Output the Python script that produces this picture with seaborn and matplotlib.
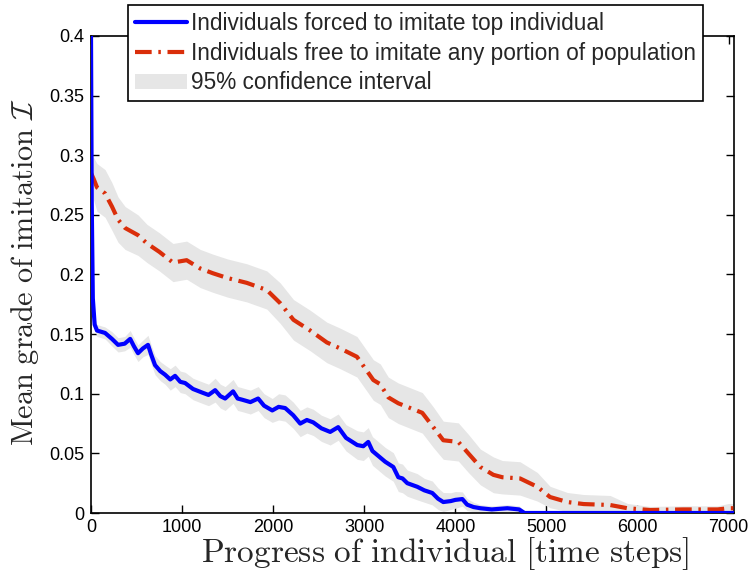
import numpy as np
import pandas as pd
import seaborn as sns
import matplotlib
matplotlib.use("Agg")
import matplotlib.pyplot as plt
from matplotlib.patches import Patch
from matplotlib.lines import Line2D

# ---------------- data ----------------
blue_x = [0, 8, 20, 40, 66, 154, 230, 297, 370, 430, 470, 516, 570, 626, 660, 703,
          760, 813, 870, 923, 980, 1033, 1120, 1220, 1290, 1363, 1420, 1473, 1560,
          1610, 1660, 1750, 1835, 1900, 1990, 2060, 2132, 2220, 2297, 2370, 2440,
          2530, 2626, 2714, 2800, 2923, 2990, 3044, 3090, 3143, 3230, 3319, 3374,
          3420, 3473, 3582, 3660, 3747, 3810, 3868, 3950, 4000, 4077, 4130, 4200,
          4275, 4400, 4571, 4700, 4740, 4760, 7060]
blue_y = [0.400, 0.260, 0.180, 0.158, 0.153, 0.151, 0.146, 0.141, 0.142, 0.146, 0.140,
          0.134, 0.138, 0.141, 0.133, 0.124, 0.119, 0.116, 0.112, 0.115, 0.110, 0.109,
          0.104, 0.101, 0.099, 0.103, 0.098, 0.096, 0.102, 0.096, 0.095, 0.093, 0.096,
          0.090, 0.086, 0.089, 0.088, 0.082, 0.075, 0.078, 0.076, 0.071, 0.068, 0.072,
          0.063, 0.057, 0.056, 0.0596, 0.052, 0.0486, 0.043, 0.0386, 0.030, 0.029,
          0.025, 0.022, 0.019, 0.0168, 0.012, 0.0092, 0.010, 0.011, 0.0117, 0.007,
          0.005, 0.004, 0.003, 0.004, 0.003, 0.001, 0.0, 0.0]
blue_ci = [0.0, 0.004, 0.005, 0.005, 0.005, 0.005, 0.006, 0.006, 0.006, 0.007, 0.007,
           0.007, 0.007, 0.008, 0.008, 0.008, 0.008, 0.008, 0.009, 0.009, 0.009, 0.009,
           0.009, 0.009, 0.009, 0.010, 0.010, 0.010, 0.010, 0.010, 0.010, 0.010, 0.010,
           0.010, 0.010, 0.011, 0.011, 0.011, 0.011, 0.011, 0.011, 0.011, 0.011, 0.011,
           0.011, 0.012, 0.012, 0.012, 0.012, 0.012, 0.012, 0.012, 0.012, 0.012, 0.011,
           0.011, 0.010, 0.010, 0.009, 0.008, 0.007, 0.007, 0.006, 0.005, 0.004, 0.003,
           0.003, 0.003, 0.003, 0.002, 0.001, 0.001]

red_x = [0, 30, 66, 154, 230, 297, 374, 516, 615, 750, 900, 1050, 1200, 1340, 1500,
         1710, 1930, 2077, 2223, 2407, 2590, 2736, 2920, 3100, 3176, 3264, 3374, 3505,
         3637, 3758, 3868, 4033, 4143, 4275, 4418, 4516, 4710, 4900, 5040, 5230, 5410,
         5700, 5890, 6140, 6500, 6880, 7000, 7060]
red_y = [0.285, 0.280, 0.273, 0.268, 0.257, 0.246, 0.239, 0.233, 0.226, 0.219, 0.210,
         0.212, 0.205, 0.201, 0.197, 0.193, 0.187, 0.176, 0.162, 0.153, 0.143, 0.138,
         0.131, 0.1115, 0.108, 0.097, 0.092, 0.088, 0.084, 0.072, 0.061, 0.0596, 0.050,
         0.0386, 0.032, 0.030, 0.029, 0.022, 0.0134, 0.0092, 0.0075, 0.0067, 0.004,
         0.0025, 0.003, 0.003, 0.004, 0.004]
red_ci = [0.014, 0.018, 0.020, 0.020, 0.020, 0.019, 0.018, 0.017, 0.016, 0.016, 0.016,
          0.016, 0.016, 0.016, 0.016, 0.016, 0.016, 0.017, 0.017, 0.017, 0.017, 0.017,
          0.017, 0.017, 0.017, 0.017, 0.017, 0.017, 0.017, 0.017, 0.016, 0.016, 0.016,
          0.015, 0.015, 0.014, 0.014, 0.012, 0.009, 0.008, 0.008, 0.008, 0.004, 0.003,
          0.003, 0.003, 0.004, 0.004]

label_blue = "Individuals forced to imitate top individual"
label_red = "Individuals free to imitate any portion of population"
label_ci = "95% confidence interval"

x_ticks = [0, 1000, 2000, 3000, 4000, 5000, 6000, 7000]
y_ticks = [0, 0.05, 0.1, 0.15, 0.2, 0.25, 0.3, 0.35, 0.4]
y_ticklabels = ["0", "0.05", "0.1", "0.15", "0.2", "0.25", "0.3", "0.35", "0.4"]

# ---------------- style ----------------
sns.set_style("ticks")
plt.rcParams["font.family"] = ["Liberation Sans", "DejaVu Sans"]
plt.rcParams["mathtext.fontset"] = "cm"

BLUE = "#0000FF"
RED = "#DA2E0A"
GREY = "#E6E6E6"
DASHDOT = (0, (4, 1.6, 0.6, 1.6))

fig = plt.figure(figsize=(7.49, 5.73), dpi=100)
ax = fig.add_axes([0.1215, 0.1047, 0.8585, 0.8325])

bx = np.array(blue_x); by = np.array(blue_y); bc = np.array(blue_ci)
rx = np.array(red_x); ry = np.array(red_y); rc = np.array(red_ci)

ax.fill_between(rx, np.clip(ry - rc, 0, None), ry + rc, color=GREY, lw=0, zorder=1)
ax.fill_between(bx, np.clip(by - bc, 0, None), by + bc, color=GREY, lw=0, zorder=1)

sns.lineplot(x=rx, y=ry, ax=ax, color=RED, lw=3.0, linestyle=DASHDOT,
             zorder=3, legend=False)
sns.lineplot(x=bx, y=by, ax=ax, color=BLUE, lw=3.0, zorder=4, legend=False)

ax.set_xlim(0, 7060)
ax.set_ylim(0, 0.4)
ax.set_xticks(x_ticks)
ax.set_xticklabels([str(t) for t in x_ticks])
ax.set_yticks(y_ticks)
ax.set_yticklabels(y_ticklabels)
ax.tick_params(direction="in", top=True, right=True, length=6, width=1,
               labelsize=13, colors="black")
ax.tick_params(axis="x", pad=4)
ax.tick_params(axis="y", pad=5)
for s in ax.spines.values():
    s.set_visible(True)
    s.set_linewidth(1.2)
    s.set_color("black")

ax.set_xlabel(r"$\mathrm{Progress\ of\ individual\ [time\ steps]}$", fontsize=24)
ax.xaxis.set_label_coords(0.55, -0.046)
ax.set_ylabel(r"$\mathrm{Mean\ grade\ of\ imitation}\ \mathcal{I}$", fontsize=21.8)
ax.yaxis.set_label_coords(-0.077, 0.505)

handles = [Line2D([], [], color=BLUE, lw=3),
           Line2D([], [], color=RED, lw=3, linestyle=DASHDOT),
           Patch(facecolor=GREY, edgecolor="none")]
leg = ax.legend(handles, [label_blue, label_red, label_ci], loc="upper left",
                bbox_to_anchor=(0.0575, 1.065), borderaxespad=0, fontsize=16.3,
                frameon=True, fancybox=False, framealpha=1, edgecolor="black",
                handlelength=2.3, handletextpad=0.2, labelspacing=0.3,
                borderpad=0.3)
leg.get_frame().set_linewidth(1.2)
leg.set_zorder(10)

fig.savefig("out.png", dpi=100)
